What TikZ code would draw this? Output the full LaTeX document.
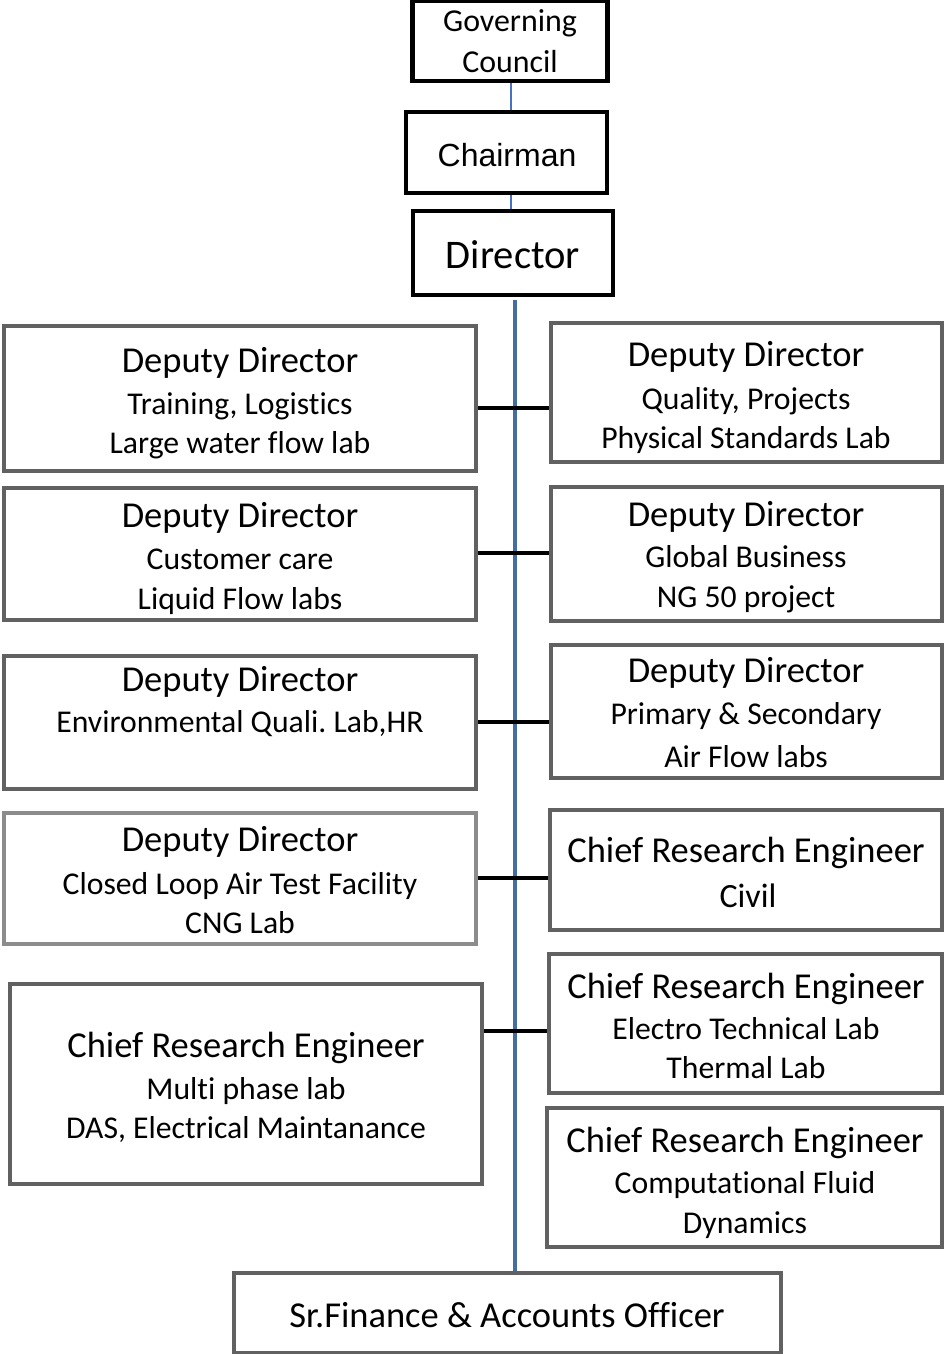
\documentclass[tikz,border=0pt]{standalone}
\usepackage{fontspec}
\setmainfont{Carlito}[Ligatures=NoCommon]
\newfontfamily\arialf{Liberation Sans}
\frenchspacing
\begin{document}
\begin{tikzpicture}[x=1pt,y=-1pt,
  topbox/.style={draw=black,line width=4.5pt,inner sep=0pt,fill=white},
  gbox/.style={draw=black!62,line width=4pt,inner sep=0pt,fill=white},
  lbox/.style={draw=black!45,line width=4pt,inner sep=0pt,fill=white},
  head/.style={anchor=base,inner sep=0pt,font=\fontsize{36.5}{40}\selectfont},
  sub/.style={anchor=base,inner sep=0pt,font=\fontsize{31.7}{38}\selectfont},
  trunk/.style={draw={rgb,255:red,68;green,110;blue,160},line width=4pt},
  thinc/.style={draw={rgb,255:red,68;green,114;blue,196},line width=1.8pt},
  hconn/.style={draw=black,line width=3.5pt}]
\useasboundingbox (0,0) rectangle (944,1354);
% top chain
\node[topbox,minimum width=195,minimum height=80] (gc) at (510,41) {};
\node[sub,font=\fontsize{31.9}{38}\selectfont] (gct1) at (510,32) {Governing};
\node[sub,font=\fontsize{31.9}{38}\selectfont] (gct2) at (510,72) {Council};
\node[topbox,minimum width=201,minimum height=81] (ch) at (506.5,152.5) {};
\node[sub,font=\arialf\fontsize{32}{38}\selectfont] (cht) at (507,166) {Chairman};
\node[topbox,minimum width=200,minimum height=84] (dir) at (513,253) {};
\node[head,font=\fontsize{40.6}{44}\selectfont] (dirt) at (513,268) {Director};
\draw[thinc] (gc.south -| 511,0) -- (ch.north -| 511,0);
\draw[thinc] (ch.south -| 511,0) -- (dir.north -| 511,0);
% boxes
\node[gbox,minimum width=472,minimum height=145] (l1) at (240,398.5) {};
\node[gbox,minimum width=391,minimum height=139] (r1) at (746.5,392.5) {};
\node[gbox,minimum width=472,minimum height=132] (l2) at (240,554) {};
\node[gbox,minimum width=391,minimum height=134] (r2) at (746.5,554) {};
\node[gbox,minimum width=472,minimum height=133] (l3) at (240,722.5) {};
\node[gbox,minimum width=391,minimum height=133] (r3) at (746.5,711.5) {};
\node[lbox,minimum width=472,minimum height=131] (l4) at (240,878.5) {};
\node[gbox,minimum width=392,minimum height=120] (r4) at (746,870) {};
\node[gbox,minimum width=472,minimum height=200] (l5) at (246,1084) {};
\node[gbox,minimum width=393,minimum height=139] (r5) at (745.5,1023.5) {};
\node[gbox,minimum width=395,minimum height=139] (r6) at (744.5,1177.5) {};
\node[gbox,minimum width=547,minimum height=80] (fin) at (507.5,1313) {};
% trunk
\coordinate (trunktop) at (515,300);
\draw[trunk] (trunktop) -- (fin.north -| trunktop);
% horizontal connectors
\draw[hconn] (l1.east |- 0,408) -- (r1.west |- 0,408);
\draw[hconn] (l2.east |- 0,553) -- (r2.west |- 0,553);
\draw[hconn] (l3.east |- 0,722) -- (r3.west |- 0,722);
\draw[hconn] (l4.east |- 0,878) -- (r4.west |- 0,878);
\draw[hconn] (l5.east |- 0,1031) -- (r5.west |- 0,1031);
% texts
\node[head] (l1a) at (240,372) {Deputy Director};
\node[sub] (l1b) at (240,414) {Training, Logistics};
\node[sub] (l1c) at (240,453) {Large water flow lab};
\node[head] (r1a) at (746,366) {Deputy Director};
\node[sub] (r1b) at (746,409) {Quality, Projects};
\node[sub] (r1c) at (746,448) {Physical Standards Lab};
\node[head] (l2a) at (240,527) {Deputy Director};
\node[sub] (l2b) at (240,569) {Customer care};
\node[sub] (l2c) at (240,609) {Liquid Flow labs};
\node[head] (r2a) at (746,526) {Deputy Director};
\node[sub] (r2b) at (746,567) {Global Business};
\node[sub] (r2c) at (746,607) {NG 50 project};
\node[head] (l3a) at (240,691) {Deputy Director};
\node[sub] (l3b) at (240,732) {Environmental Quali. Lab,HR};
\node[head] (r3a) at (746,682) {Deputy Director};
\node[sub] (r3b) at (746,724) {Primary \& Secondary};
\node[sub] (r3c) at (746,767) {Air Flow labs};
\node[head] (l4a) at (240,851) {Deputy Director};
\node[sub] (l4b) at (240,894) {Closed Loop Air Test Facility};
\node[sub] (l4c) at (240,933) {CNG Lab};
\node[head] (r4a) at (746,862) {Chief Research Engineer};
\node[head,font=\fontsize{34}{40}\selectfont] (r4b) at (748,907) {Civil};
\node[head] (l5a) at (246,1057) {Chief Research Engineer};
\node[sub] (l5b) at (246,1099) {Multi phase lab};
\node[sub] (l5c) at (246,1138) {DAS, Electrical Maintanance};
\node[head] (r5a) at (746,998) {Chief Research Engineer};
\node[sub] (r5b) at (746,1039) {Electro Technical Lab};
\node[sub] (r5c) at (746,1078) {Thermal Lab};
\node[head] (r6a) at (745,1152) {Chief Research Engineer};
\node[sub] (r6b) at (745,1193) {Computational Fluid};
\node[sub] (r6c) at (745,1233) {Dynamics};
\node[head] (fint) at (507,1327) {Sr.Finance \& Accounts Officer};
\end{tikzpicture}
\end{document}
